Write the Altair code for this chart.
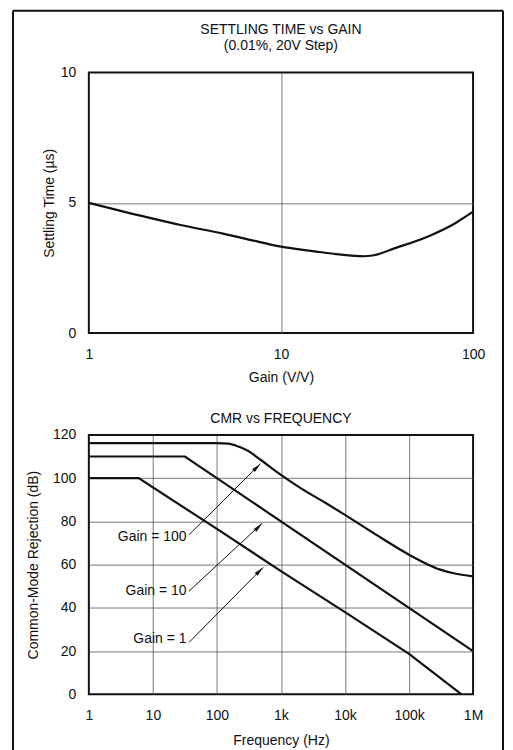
import altair as alt
import pandas as pd

# ---------------- data: top chart (settling time vs gain) ----------------
gain = [1, 2, 3, 5, 7, 10, 15, 20, 27, 30, 40, 60, 80, 100]
settling_us = [5.0, 4.45, 4.15, 3.82, 3.57, 3.32, 3.14, 3.02, 2.95, 2.98, 3.28, 3.75, 4.2, 4.66]

# ---------------- data: bottom chart (CMR vs frequency) ----------------
freq_g100 = [1, 100, 150, 200, 300, 480, 1000, 2000, 5000, 10000, 30000, 100000, 200000, 300000, 500000, 1000000]
cmr_g100 = [116.2, 116.2, 116.0, 115.0, 112.8, 108.5, 101.5, 95.5, 88.5, 83.0, 74.0, 64.6, 60.0, 57.8, 56.0, 54.6]
freq_g10 = [1, 31.6, 1000000]
cmr_g10 = [110, 110, 20]
freq_g1 = [1, 6, 100, 1000, 10000, 100000, 660000]
cmr_g1 = [100, 100, 76.5, 57, 38, 18.7, 0]

label_text = ["Gain = 100", "Gain = 10", "Gain = 1"]
label_freq = [33.5, 33.5, 33.5]
label_cmr = [72.7, 47.7, 25.5]
arrow_f0 = [36.6, 36.6, 36.6]
arrow_db0 = [73.8, 47.7, 24.0]
arrow_f1 = [479, 509, 527]
arrow_db1 = [106.7, 79.1, 58.7]

FONT = "Liberation Sans"
INK = "#111111"

df_top = pd.DataFrame({"gain": gain, "t": settling_us})
df_g100 = pd.DataFrame({"f": freq_g100, "cmr": cmr_g100})
df_g10 = pd.DataFrame({"f": freq_g10, "cmr": cmr_g10})
df_g1 = pd.DataFrame({"f": freq_g1, "cmr": cmr_g1})
df_lab = pd.DataFrame({"text": label_text, "f": label_freq, "cmr": label_cmr})
df_arr = pd.DataFrame({"f0": arrow_f0, "d0": arrow_db0, "f1": arrow_f1, "d1": arrow_db1})
df_one = pd.DataFrame({"k": [0]})

grid_hide_top_x = {"condition": {"test": "datum.value <= 1 || datum.value >= 100", "value": 0}, "value": 1}
grid_hide_top_y = {"condition": {"test": "datum.value <= 0 || datum.value >= 10", "value": 0}, "value": 1}
grid_hide_bot_x = {"condition": {"test": "datum.value <= 1 || datum.value >= 1000000", "value": 0}, "value": 1}
grid_hide_bot_y = {"condition": {"test": "datum.value <= 0 || datum.value >= 120", "value": 0}, "value": 1}

# ---------------- top chart ----------------
x_top = alt.X("gain:Q", scale=alt.Scale(type="log", domain=[1, 100], nice=False),
              axis=alt.Axis(values=[1, 10, 100], format="d", title="Gain (V/V)",
                            titlePadding=10, gridOpacity=grid_hide_top_x))
y_top = alt.Y("t:Q", scale=alt.Scale(domain=[0, 10], nice=False),
              axis=alt.Axis(values=[0, 5, 10], title="Settling Time (\u00b5s)", titlePadding=4,
                            gridOpacity=grid_hide_top_y))

top_line = alt.Chart(df_top).mark_line(color=INK, strokeWidth=2.2, interpolate="monotone").encode(
    x=x_top, y=y_top)

frame_h = alt.Chart(df_one).mark_rule(color=INK, strokeWidth=2).encode(
    x=alt.value(-76), x2=alt.value(415), y=alt.value(-62))
frame_l = alt.Chart(df_one).mark_rule(color=INK, strokeWidth=2).encode(
    x=alt.value(-76), y=alt.value(-62), y2=alt.value(679))
frame_r = alt.Chart(df_one).mark_rule(color=INK, strokeWidth=2).encode(
    x=alt.value(415), y=alt.value(-62), y2=alt.value(679))

top = alt.layer(top_line, frame_h, frame_l, frame_r).properties(
    width=385, height=261,
    title=alt.TitleParams(["SETTLING TIME vs GAIN", "(0.01%, 20V Step)"], fontSize=14, font=FONT,
                          fontWeight="normal", color=INK, offset=-43, lineHeight=16,
                          anchor="middle", frame="group"))

# ---------------- bottom chart ----------------
x_bot = alt.X("f:Q", scale=alt.Scale(type="log", domain=[1, 1000000], nice=False),
              axis=alt.Axis(values=[1, 10, 100, 1000, 10000, 100000, 1000000],
                            labelExpr="datum.value >= 1000000 ? '1M' : datum.value >= 1000 ? format(datum.value/1000, 'd') + 'k' : format(datum.value, 'd')",
                            title="Frequency (Hz)", titlePadding=11, gridOpacity=grid_hide_bot_x))
y_bot = alt.Y("cmr:Q", scale=alt.Scale(domain=[0, 120], nice=False),
              axis=alt.Axis(values=[0, 20, 40, 60, 80, 100, 120], title="Common-Mode Rejection (dB)",
                            titlePadding=12, gridOpacity=grid_hide_bot_y))

l100 = alt.Chart(df_g100).mark_line(color=INK, strokeWidth=2.2, interpolate="monotone").encode(x=x_bot, y=y_bot)
l10 = alt.Chart(df_g10).mark_line(color=INK, strokeWidth=2.2).encode(x=x_bot, y=y_bot)
l1 = alt.Chart(df_g1).mark_line(color=INK, strokeWidth=2.2).encode(x=x_bot, y=y_bot)

arrows = alt.Chart(df_arr).mark_rule(color=INK, strokeWidth=1).encode(
    x="f0:Q", x2="f1:Q", y="d0:Q", y2="d1:Q")
heads = alt.Chart(df_arr).mark_point(
    shape="M0,0L0.45,2.2L-0.45,2.2Z", filled=True, size=81, angle=45, color=INK, opacity=1
).encode(x="f1:Q", y="d1:Q")
labels = alt.Chart(df_lab).mark_text(align="right", baseline="middle", fontSize=14, font=FONT, color=INK).encode(
    x="f:Q", y="cmr:Q", text="text:N")

bottom = alt.layer(l100, l10, l1, arrows, heads, labels).properties(
    width=385, height=260,
    title=alt.TitleParams("CMR vs FREQUENCY", fontSize=14, font=FONT, fontWeight="normal",
                          color=INK, offset=2, anchor="middle", frame="group"))

chart = alt.vconcat(top, bottom, spacing=102, bounds="flush").properties(
    padding={"top": 0, "left": 3, "right": 0, "bottom": 0}
).configure_view(
    stroke=INK, strokeWidth=2
).configure_axis(
    labelFont=FONT, titleFont=FONT, labelFontSize=14, titleFontSize=14,
    labelColor=INK, titleColor=INK, titleFontWeight="normal",
    domain=False, ticks=False, labelFlush=False, labelOverlap=False,
    gridColor="#555555", gridWidth=0.8
).configure_axisX(
    labelPadding=14
).configure_axisY(
    labelPadding=13
)

chart.save("out.html", embed_options={"renderer": "svg", "actions": False})
